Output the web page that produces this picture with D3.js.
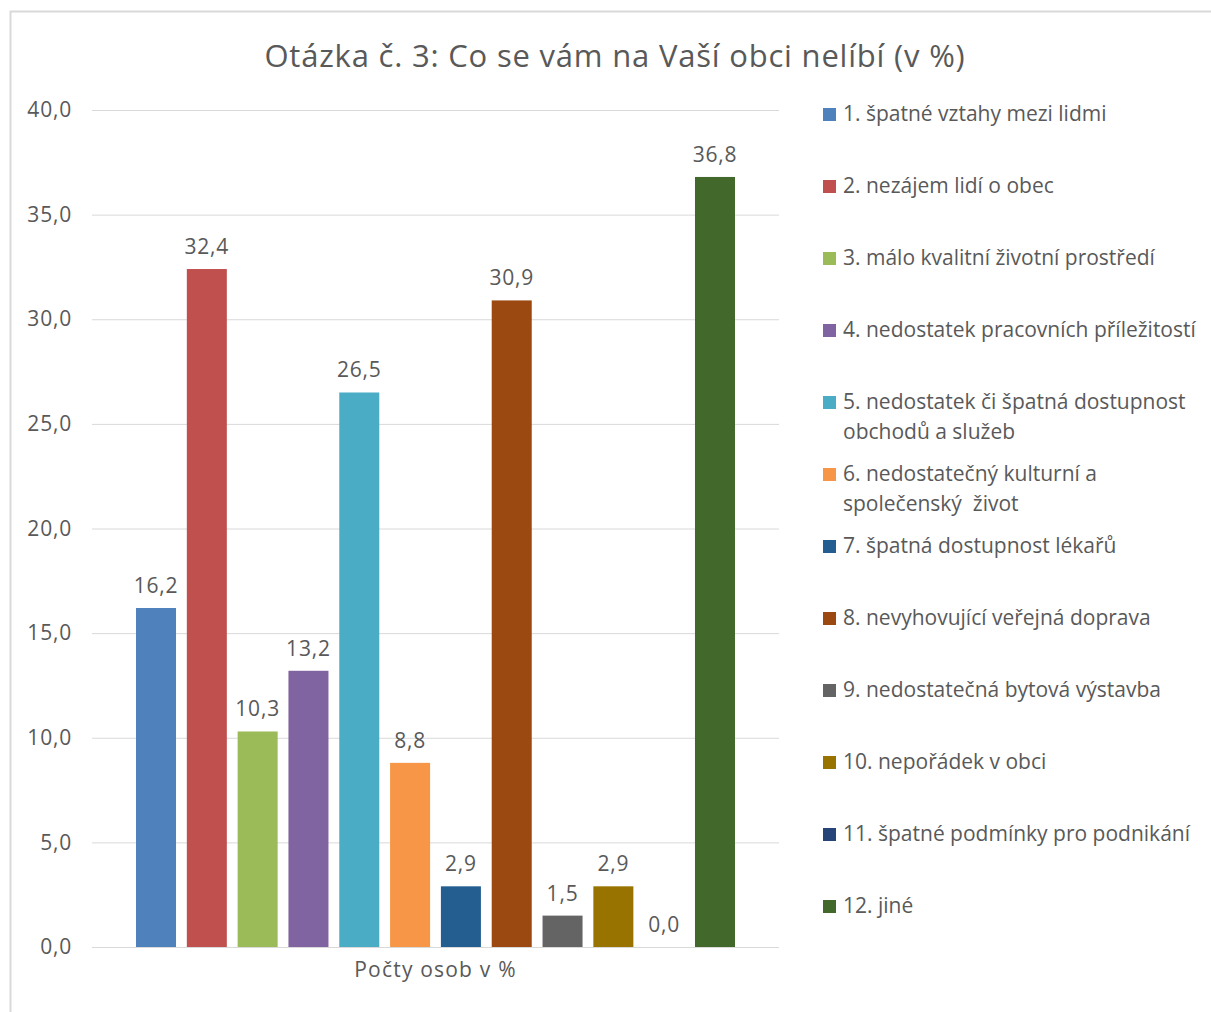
<!DOCTYPE html>
<html><head><meta charset="utf-8">
<script src="https://cdn.jsdelivr.net/npm/d3@7"></script>
<style>body{margin:0;background:#fff}svg{display:block;font-family:"Open Sans",sans-serif}</style>
</head><body><svg id="c" width="1211" height="1012"></svg>
<script>
const title = "Otázka č. 3: Co se vám na Vaší obci nelíbí (v %)";
const categoryLabel = "Počty osob v %";
const seriesNames = [
  ["1. špatné vztahy mezi lidmi"],
  ["2. nezájem lidí o obec"],
  ["3. málo kvalitní životní prostředí"],
  ["4. nedostatek pracovních příležitostí"],
  ["5. nedostatek či špatná dostupnost", "obchodů a služeb"],
  ["6. nedostatečný kulturní a", "společenský  život"],
  ["7. špatná dostupnost lékařů"],
  ["8. nevyhovující veřejná doprava"],
  ["9. nedostatečná bytová výstavba"],
  ["10. nepořádek v obci"],
  ["11. špatné podmínky pro podnikání"],
  ["12. jiné"]
];
const values = [16.2, 32.4, 10.3, 13.2, 26.5, 8.8, 2.9, 30.9, 1.5, 2.9, 0.0, 36.8];
const colors = ["#4F81BD","#C0504D","#9BBB59","#8064A2","#4BACC6","#F79646","#245E91","#9C4811","#646464","#997300","#264478","#43682B"];
const yTicks = [0,5,10,15,20,25,30,35,40];

const svg = d3.select("#c");
const fmt = v => v.toFixed(1).replace(".", ",");
const txt = "#595959";

svg.append("rect").attr("x",10.5).attr("y",11.5).attr("width",1220).attr("height",1020)
  .attr("fill","#fff").attr("stroke","#d9d9d9").attr("stroke-width",2);

svg.append("text").attr("x",615).attr("y",67).attr("text-anchor","middle")
  .attr("font-size",31).attr("letter-spacing",0.8).attr("fill",txt).text(title);

const x0 = 92, x1 = 779;
const y = d3.scaleLinear().domain([0,40]).range([947,110]);
const x = d3.scaleBand().domain(d3.range(values.length)).range([x0,x1])
  .paddingInner(0.2126).paddingOuter(0.866);

const ax = svg.append("g").attr("transform",`translate(${x0},0)`)
  .call(d3.axisLeft(y).tickValues(yTicks).tickSize(-(x1-x0)).tickFormat(fmt).tickPadding(20));
ax.select(".domain").remove();
ax.selectAll(".tick line").attr("stroke","#d9d9d9").attr("stroke-width",1);
ax.selectAll(".tick text").attr("fill",txt).attr("font-size",21).attr("letter-spacing",0.8)
  .attr("font-family","'Open Sans',sans-serif");

svg.append("g").selectAll("rect").data(values).join("rect")
  .attr("x",(d,i)=>x(i)).attr("width",x.bandwidth())
  .attr("y",d=>y(d)).attr("height",d=>y(0)-y(d))
  .attr("fill",(d,i)=>colors[i]);

svg.append("g").selectAll("text").data(values).join("text")
  .attr("x",(d,i)=>x(i)+x.bandwidth()/2).attr("y",d=>y(d)-15)
  .attr("text-anchor","middle").attr("font-size",21).attr("letter-spacing",0.8)
  .attr("fill",txt).text(fmt);

svg.append("text").attr("x",(x0+x1)/2).attr("y",977).attr("text-anchor","middle")
  .attr("font-size",21).attr("letter-spacing",1.2).attr("fill",txt).text(categoryLabel);

const lg = svg.append("g");
seriesNames.forEach((lines,i)=>{
  const base = 121 + 72*i;
  lg.append("rect").attr("x",823).attr("y",base-13).attr("width",13).attr("height",13).attr("fill",colors[i]);
  lines.forEach((l,j)=>{
    lg.append("text").attr("x",843).attr("y",base+j*30).attr("font-size",21)
      .style("white-space","pre").attr("fill",txt).text(l);
  });
});
</script></body></html>
